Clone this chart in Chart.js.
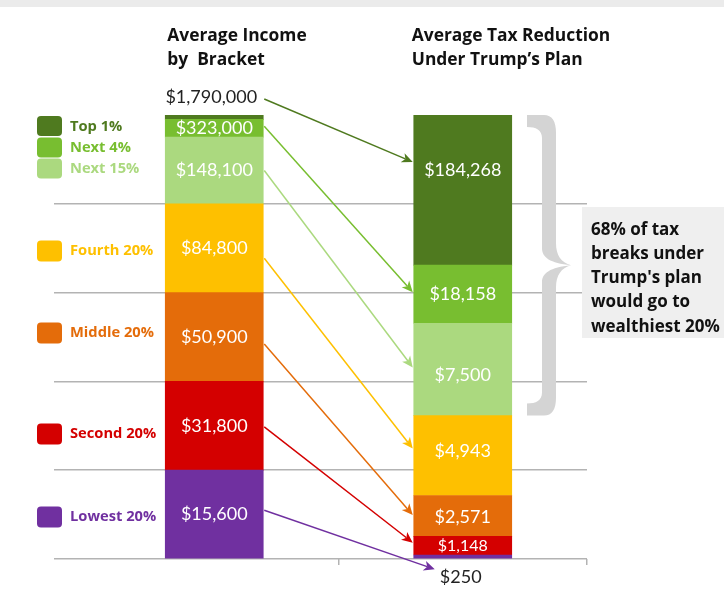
<!DOCTYPE html>
<html>
<head>
<meta charset="utf-8">
<script src="https://cdn.jsdelivr.net/npm/chart.js@4.4.0/dist/chart.umd.min.js"></script>
<style>
  html, body { margin: 0; padding: 0; background: #fff; }
  #wrap { width: 724px; height: 589px; position: relative; }
</style>
</head>
<body>
<div id="wrap"><canvas id="chart" width="724" height="589"></canvas></div>
<script>
// bottom of the stack first
const brackets = ['Lowest 20%', 'Second 20%', 'Middle 20%', 'Fourth 20%', 'Next 15%', 'Next 4%', 'Top 1%'];
const populationShare = [20, 20, 20, 20, 15, 4, 1];
const taxCutShare = [0.9, 4.2, 9.2, 18.0, 20.8, 13.1, 33.8];
const avgIncome = ['$15,600', '$31,800', '$50,900', '$84,800', '$148,100', '$323,000', '$1,790,000'];
const avgTaxCut = ['$250', '$1,148', '$2,571', '$4,943', '$7,500', '$18,158', '$184,268'];
const columnTitles = [['Average Income', 'by  Bracket'], ['Average Tax Reduction', 'Under Trump\u2019s Plan']];
const noteLines = ['68% of tax', 'breaks under', "Trump's plan", 'would go to', 'wealthiest 20%'];

const bracketColors = ['#7030a0', '#d40000', '#e46c0a', '#fec000', '#abd97f', '#78be30', '#4f7a1f'];
const FONT = 'Lato, "Open Sans", sans-serif';
const BOLD_FONT = '"Open Sans", Lato, sans-serif';

// little layout tweaks for labels and arrows (pixels)
const rightLabelDy = [0, 0, 1, -4, 6, 0, -20];
const arrowStartDy = [-4, 1, 7, 10, 0, -2, 2];
const arrowEndDy = [-8, -3, -2, -3, -8, -2, -8];
const legendY = [517, 434, 333, 251, 169, 148, 127];

function arrow(ctx, x1, y1, x2, y2, color) {
  const ang = Math.atan2(y2 - y1, x2 - x1);
  const head = 11, half = 5;
  const bx = x2 - head * Math.cos(ang), by = y2 - head * Math.sin(ang);
  ctx.strokeStyle = color;
  ctx.lineWidth = 1.5;
  ctx.beginPath();
  ctx.moveTo(x1, y1);
  ctx.lineTo(bx + 3 * Math.cos(ang), by + 3 * Math.sin(ang));
  ctx.stroke();
  ctx.fillStyle = color;
  ctx.beginPath();
  ctx.moveTo(x2, y2);
  ctx.lineTo(bx + half * Math.sin(ang), by - half * Math.cos(ang));
  ctx.lineTo(bx + 3 * Math.cos(ang), by + 3 * Math.sin(ang));
  ctx.lineTo(bx - half * Math.sin(ang), by + half * Math.cos(ang));
  ctx.closePath();
  ctx.fill();
}

function roundRect(ctx, x, y, w, h, r) {
  ctx.beginPath();
  ctx.moveTo(x + r, y);
  ctx.arcTo(x + w, y, x + w, y + h, r);
  ctx.arcTo(x + w, y + h, x, y + h, r);
  ctx.arcTo(x, y + h, x, y, r);
  ctx.arcTo(x, y, x + w, y, r);
  ctx.closePath();
}

const decorations = {
  id: 'decorations',
  beforeDraw(chart) {
    const ctx = chart.ctx;
    ctx.save();
    ctx.fillStyle = '#ebebeb';
    ctx.fillRect(0, 0, chart.width, 7);
    ctx.restore();
  },
  afterDatasetsDraw(chart) {
    const ctx = chart.ctx;
    const n = brackets.length;
    const left = i => chart.getDatasetMeta(i).data[0];
    const right = i => chart.getDatasetMeta(i).data[1];
    ctx.save();

    // positions of value labels
    const lPos = [], rPos = [];
    for (let i = 0; i < n; i++) {
      const l = left(i), r = right(i);
      lPos.push({ x: l.x, y: (l.y + l.base) / 2 });
      rPos.push({ x: r.x, y: (r.y + r.base) / 2 + rightLabelDy[i] });
    }
    // top 1% income sits above the bar, lowest tax cut below it
    lPos[n - 1] = { x: left(n - 1).x - 3, y: left(n - 1).y - 18 };
    rPos[0] = { x: right(0).x - 2, y: right(0).base + 19 };

    // arrows
    for (let i = 0; i < n; i++) {
      const l = left(i), r = right(i);
      const x1 = l.x + l.width / 2 + 1;
      const y1 = lPos[i].y + arrowStartDy[i];
      let x2 = r.x - r.width / 2 - 1;
      let y2 = rPos[i].y + arrowEndDy[i];
      if (i === 0) x2 = rPos[0].x - 26;
      arrow(ctx, x1, y1, x2, y2, bracketColors[i]);
    }

    // value labels
    ctx.textAlign = 'center';
    ctx.textBaseline = 'middle';
    for (let i = 0; i < n; i++) {
      ctx.fillStyle = i === n - 1 ? '#222' : '#fff';
      ctx.font = '18px ' + FONT;
      ctx.fillText(avgIncome[i], lPos[i].x, lPos[i].y);
      ctx.fillStyle = i === 0 ? '#222' : '#fff';
      ctx.font = (i === 1 ? '16px ' : '18px ') + FONT;
      ctx.fillText(avgTaxCut[i], rPos[i].x, rPos[i].y);
    }
    ctx.restore();
  },
  afterDraw(chart) {
    const ctx = chart.ctx;
    const x = chart.scales.x;
    ctx.save();

    // column headers
    ctx.fillStyle = '#111';
    ctx.font = 'bold 17.4px ' + BOLD_FONT;
    ctx.textBaseline = 'middle';
    ctx.textAlign = 'left';
    columnTitles.forEach((lines, c) => {
      const bar = chart.getDatasetMeta(0).data[c];
      const lx = bar.x - bar.width / 2 + (c === 0 ? 2 : -2);
      lines.forEach((t, k) => ctx.fillText(t, lx, 36 + k * 24));
    });

    // legend
    ctx.font = 'bold 14.7px ' + BOLD_FONT;
    brackets.forEach((name, i) => {
      const top3 = i >= 4;
      const h = top3 ? 20 : 21;
      const cy = top3 ? [168.5, 147.5, 126][i - 4] : legendY[i];
      ctx.fillStyle = bracketColors[i];
      roundRect(ctx, 37, cy - h / 2, 25, h, 4);
      ctx.fill();
      ctx.fillText(name, 70, legendY[i]);
    });

    // curly brace over the top 20% of earners' share
    const top = chart.getDatasetMeta(brackets.length - 1).data[1].y;
    const bot = chart.getDatasetMeta(4).data[1].base;
    const mid = (top + bot) / 2;
    const bx = x.right - 60;
    ctx.fillStyle = '#d4d4d4';
    ctx.beginPath();
    ctx.moveTo(bx, top);
    ctx.lineTo(bx + 17, top);
    ctx.bezierCurveTo(bx + 25, top, bx + 29, top + 6, bx + 29, top + 18);
    ctx.lineTo(bx + 29, mid - 22);
    ctx.bezierCurveTo(bx + 29, mid - 10, bx + 34, mid - 3, bx + 44, mid);
    ctx.bezierCurveTo(bx + 34, mid + 3, bx + 29, mid + 10, bx + 29, mid + 22);
    ctx.lineTo(bx + 29, bot - 18);
    ctx.bezierCurveTo(bx + 29, bot - 6, bx + 25, bot, bx + 17, bot);
    ctx.lineTo(bx, bot);
    ctx.lineTo(bx, bot - 12);
    ctx.bezierCurveTo(bx + 9, bot - 12, bx + 15, bot - 15, bx + 15, bot - 23);
    ctx.lineTo(bx + 15, mid + 17);
    ctx.bezierCurveTo(bx + 15, mid + 8, bx + 23, mid + 2, bx + 44, mid);
    ctx.bezierCurveTo(bx + 23, mid - 2, bx + 15, mid - 8, bx + 15, mid - 17);
    ctx.lineTo(bx + 15, top + 23);
    ctx.bezierCurveTo(bx + 15, top + 15, bx + 9, top + 12, bx, top + 12);
    ctx.closePath();
    ctx.fill();

    // note box
    ctx.fillStyle = '#efefef';
    ctx.fillRect(582, 207, chart.width - 582, 131);
    ctx.fillStyle = '#111';
    ctx.font = 'bold 17px ' + BOLD_FONT;
    noteLines.forEach((t, k) => ctx.fillText(t, 591, 230 + k * 24.2));
    ctx.restore();
  }
};

new Chart(document.getElementById('chart'), {
  type: 'bar',
  data: {
    labels: columnTitles.map(t => t.join(' ')),
    datasets: brackets.map((name, i) => ({
      label: name,
      data: [populationShare[i], taxCutShare[i]],
      backgroundColor: bracketColors[i],
      borderWidth: 0,
      barThickness: 98
    }))
  },
  options: {
    responsive: false,
    animation: false,
    layout: { padding: { left: 54, right: 137, top: 115, bottom: 24 } },
    plugins: { legend: { display: false }, tooltip: { enabled: false } },
    scales: {
      x: {
        stacked: true,
        offset: true,
        ticks: { display: false },
        border: { display: false },
        grid: {
          drawOnChartArea: false,
          tickLength: 6,
          lineWidth: 1.5,
          color: ctx => ctx.index === 0 ? 'rgba(0,0,0,0)' : '#b3b3b3'
        }
      },
      y: {
        stacked: true,
        min: 0,
        max: 100,
        ticks: { display: false, stepSize: 20 },
        border: { display: false },
        grid: {
          tickLength: 36,
          lineWidth: 1.5,
          color: ctx => ctx.tick && ctx.tick.value === 100 ? 'rgba(0,0,0,0)' : '#b3b3b3'
        }
      }
    }
  },
  plugins: [decorations]
});
</script>
</body>
</html>
